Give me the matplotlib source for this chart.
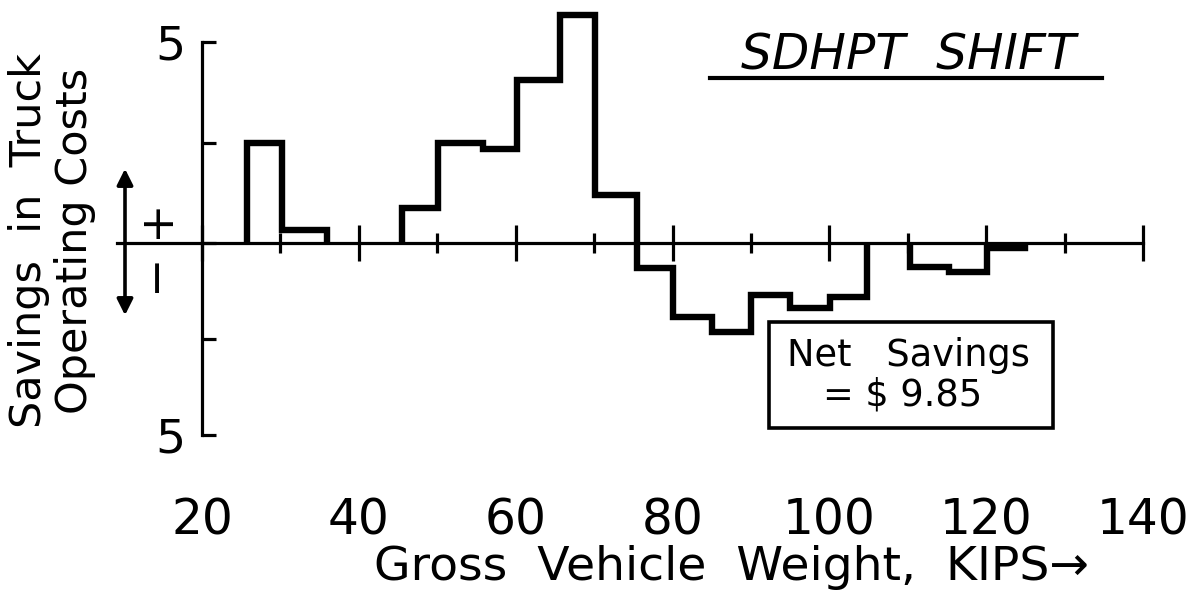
import numpy as np
import matplotlib
matplotlib.use('Agg')
import matplotlib.pyplot as plt
from matplotlib.patches import Rectangle
from matplotlib.lines import Line2D

# ---- data ----
edges_a = [25.7, 30.2, 35.9]
vals_a = [2.5, 0.33]
edges_b = [45.5, 50.1, 55.8, 60.2, 65.7, 70.1, 75.5, 80.0, 85.0, 90.0, 95.0, 100.1, 104.8]
vals_b = [0.87, 2.5, 2.35, 4.05, 5.67, 1.2, -0.65, -1.93, -2.32, -1.35, -1.69, -1.41]
edges_c = [110.3, 115.2, 120.1, 125.0]
vals_c = [-0.63, -0.76, -0.13]

x_major = [20, 40, 60, 80, 100, 120, 140]
x_minor = [30, 50, 70, 90, 110, 130]
x_labels = ['20', '40', '60', '80', '100', '120', '140']
y_ticks = [-5, -2.5, 0, 2.5, 5]
y_labels = ['5', '', '', '', '5']

title = 'SDHPT  SHIFT'
xlabel = 'Gross  Vehicle  Weight,  KIPS\u2192'
ylabel = 'Savings  in  Truck\nOperating Costs'
note = 'Net   Savings\n= $ 9.85 '

plt.rcParams['font.family'] = ['DejaVu Sans']

W, H = 1197, 590
fig = plt.figure(figsize=(W / 100, H / 100), dpi=100)
ax = fig.add_axes([202 / W, 1 - 435 / H, 941 / W, 393 / H])

k = 192 / 201
ax.set_yscale('function', functions=(lambda y: np.where(y < 0, y * k, y),
                                     lambda y: np.where(y < 0, y / k, y)))
ax.set_xlim(20, 140)
ax.set_ylim(-5, 5)

for e, v in [(edges_a, vals_a), (edges_b, vals_b), (edges_c, vals_c)]:
    ax.stairs(v, e, baseline=0, color='black', lw=4.6, clip_on=False, zorder=3)

for s in ['top', 'right', 'bottom']:
    ax.spines[s].set_visible(False)
ax.spines['left'].set_linewidth(2.3)

# x tick labels far below the zero line
ax.set_xticks(x_major)
ax.set_xticklabels(x_labels, fontsize=35)
ax.tick_params(axis='x', length=0, pad=44)

# y ticks
ax.set_yticks(y_ticks)
ax.set_yticklabels(y_labels, fontsize=34)
ax.tick_params(axis='y', direction='in', length=10, width=2.3, pad=12)
ax.yaxis.set_minor_locator(matplotlib.ticker.NullLocator())

# zero axis with ticks
sec = ax.secondary_xaxis(0, transform=ax.transData)
sec.spines['bottom'].set_visible(False)
sec.set_xticks(x_major)
sec.set_xticks(x_minor, minor=True)
sec.tick_params(which='major', direction='inout', length=26, width=2.3, labelbottom=False)
sec.tick_params(which='minor', direction='inout', length=15, width=2.3, labelbottom=False)
ax.plot([9.2, 140], [0, 0], color='black', lw=2.3, clip_on=False, zorder=2)

# texts
fig.text(731 / W, 1 - 580 / H, xlabel, fontsize=34, ha='center', va='baseline')
fig.text(52 / W, 1 - 241 / H, ylabel, fontsize=31, rotation=90, ha='center', va='center',
         multialignment='center', linespacing=1.1)
fig.text(908 / W, 1 - 69 / H, title, fontsize=35, style='italic', ha='center', va='baseline')
fig.add_artist(Line2D([710 / W, 1102 / W], [1 - 78 / H, 1 - 78 / H], color='black', lw=3))

ax.annotate('', xy=(125, H - 166), xytext=(125, H - 318), xycoords='figure pixels',
            textcoords='figure pixels',
            arrowprops=dict(arrowstyle='<|-|>', lw=2.6, color='black', mutation_scale=24))
fig.text(156 / W, 1 - 218 / H, '+', fontsize=34, rotation=90, ha='center', va='center')
fig.text(156 / W, 1 - 272 / H, '\u2212', fontsize=34, rotation=90, ha='center', va='center')

fig.add_artist(Rectangle((769 / W, 1 - 428 / H), (1053 - 769) / W, (428 - 322) / H,
                         transform=fig.transFigure, fill=False, lw=2.6, color='black'))
fig.text(908 / W, 1 - 375 / H, note, fontsize=26.5, ha='center', va='center',
         multialignment='center', linespacing=1.1)

fig.savefig('out.png', dpi=100)
